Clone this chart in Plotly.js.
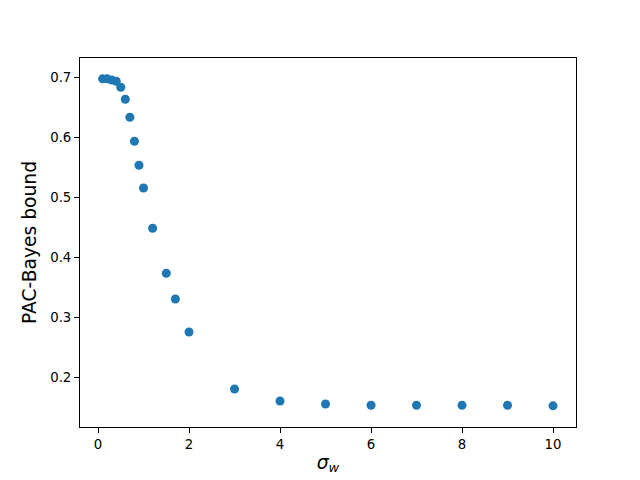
<!DOCTYPE html>
<html>
<head>
<meta charset="utf-8">
<script src="https://cdn.plot.ly/plotly-3.0.1.min.js"></script>
<style>html,body{margin:0;padding:0;background:#fff;}#chart{width:640px;height:480px;}</style>
</head>
<body>
<div id="chart"></div>
<script>
const sigmaW = [0.1, 0.2, 0.3, 0.4, 0.5, 0.6, 0.7, 0.8, 0.9, 1.0, 1.2, 1.5, 1.7, 2.0, 3, 4, 5, 6, 7, 8, 9, 10];
const bound = [0.697, 0.697, 0.695, 0.693, 0.683, 0.663, 0.633, 0.593, 0.553, 0.515, 0.448, 0.373, 0.330, 0.275, 0.180, 0.160, 0.155, 0.153, 0.153, 0.153, 0.153, 0.152];

const axisCommon = {
  showgrid: false, zeroline: false, showline: true, mirror: true,
  linecolor: '#000', linewidth: 1,
  ticks: 'outside', ticklen: 5, tickwidth: 1, tickcolor: '#000',
  tickfont: {family: 'DejaVu Sans', size: 13.3, color: '#000'}
};

Plotly.newPlot('chart', [{
  x: sigmaW, y: bound, type: 'scatter', mode: 'markers',
  marker: {color: '#1f77b4', size: 9}
}], {
  width: 640, height: 480,
  margin: {l: 80, r: 64, t: 58, b: 53},
  paper_bgcolor: '#fff', plot_bgcolor: '#fff',
  showlegend: false,
  xaxis: Object.assign({}, axisCommon, {
    range: [-0.396, 10.505], tickvals: [0, 2, 4, 6, 8, 10],
    title: {text: '<i>σ<sub>w</sub></i>', font: {family: 'DejaVu Sans', size: 18.7, color: '#000'}, standoff: 4}
  }),
  yaxis: Object.assign({}, axisCommon, {
    range: [0.1167, 0.7317], tickvals: [0.2, 0.3, 0.4, 0.5, 0.6, 0.7], ticktext: ['0.2','0.3','0.4','0.5','0.6','0.7'],
    title: {text: 'PAC-Bayes bound', font: {family: 'DejaVu Sans', size: 18.7, color: '#000'}, standoff: 8}
  })
}, {displayModeBar: false});
</script>
</body>
</html>
